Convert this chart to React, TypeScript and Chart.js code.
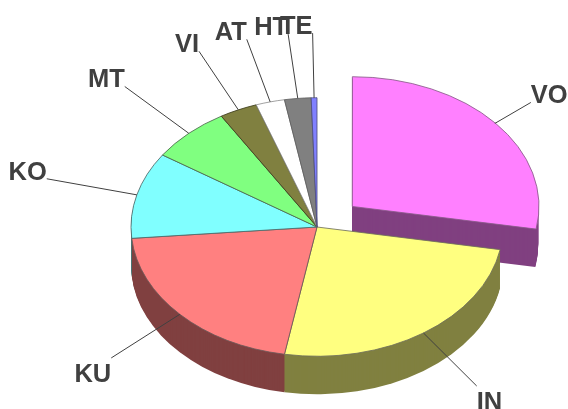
import React, { useEffect, useRef } from "react";
import { Chart, registerables } from "chart.js";

Chart.register(...registerables);

const categories = ["VO", "IN", "KU", "KO", "MT", "VI", "AT", "HT", "TE"];
const shares = [27.8, 25.0, 20.8, 10.8, 7.0, 3.3, 2.5, 2.3, 0.5];
const topColors = ["#FF80FF", "#FFFF80", "#FF8080", "#80FFFF", "#80FF80", "#808040", "#FFFFFF", "#808080", "#8080FF"];
const sideColors = ["#804080", "#808040", "#804040", "#408080", "#408040", "#404020", "#808080", "#404040", "#404080"];
const edgeColors = ["#8a5a8a", "#70705a", "#705a5a", "#506a6a", "#506a50", "#404020", "#909090", "#606060", "#505080"];
const paintOrder = [8, 7, 6, 5, 4, 3, 0, 2, 1];
const sliceOffsets = [184, 0, 0, 0, 0, 0, 0, 0, 0];

const SQUASH = 0.695;
const DEPTH = 38;
const LEADER = 1.5;

const pie3d = {
  id: "pie3d",
  beforeDatasetsDraw(chart: any) {
    const ctx = chart.ctx;
    const arcs = chart.getDatasetMeta(0).data;
    ctx.save();
    paintOrder.forEach((i) => {
      const a = arcs[i];
      const mid = (a.startAngle + a.endAngle) / 2;
      const shift = (sliceOffsets[i] || 0) / 4;
      const cx = a.x + Math.cos(mid) * shift;
      const cy = a.y + Math.sin(mid) * shift * SQUASH;
      ctx.fillStyle = sideColors[i];
      for (let k = DEPTH; k >= 1; k--) {
        ctx.beginPath();
        ctx.moveTo(cx, cy + k);
        ctx.ellipse(cx, cy + k, a.outerRadius, a.outerRadius * SQUASH, 0, a.startAngle, a.endAngle);
        ctx.closePath();
        ctx.fill();
      }
    });
    ctx.restore();
    const c = arcs[0].y;
    ctx.save();
    ctx.translate(0, c);
    ctx.scale(1, SQUASH);
    ctx.translate(0, -c);
  },
  afterDatasetsDraw(chart: any) {
    const ctx = chart.ctx;
    ctx.restore();
    const arcs = chart.getDatasetMeta(0).data;
    ctx.save();
    ctx.strokeStyle = "#404040";
    ctx.lineWidth = 1;
    ctx.fillStyle = "#404040";
    ctx.font = "bold 25.5px 'Liberation Sans'";
    arcs.forEach((a: any, i: number) => {
      const mid = (a.startAngle + a.endAngle) / 2;
      const shift = (sliceOffsets[i] || 0) / 4;
      const ux = Math.cos(mid);
      const uy = Math.sin(mid) * SQUASH;
      const r = a.outerRadius;
      const sx = a.x + ux * (r + shift);
      const sy = a.y + uy * (r + shift);
      const ex = a.x + ux * r * LEADER;
      const ey = a.y + uy * r * LEADER;
      ctx.beginPath();
      ctx.moveTo(sx, sy);
      ctx.lineTo(ex, ey);
      ctx.stroke();
      ctx.textAlign = ux < 0 ? "right" : "left";
      ctx.textBaseline = "alphabetic";
      ctx.fillText(categories[i], ex, uy > 0 ? ey + 24 : ey + 1);
    });
    ctx.restore();
  },
};

export default function App() {
  const ref = useRef<HTMLCanvasElement>(null);
  useEffect(() => {
    const chart = new Chart(ref.current as HTMLCanvasElement, {
      type: "pie",
      data: {
        labels: categories,
        datasets: [
          {
            data: shares,
            backgroundColor: topColors,
            borderColor: edgeColors,
            borderWidth: 1,
            offset: sliceOffsets,
            clip: false,
          } as any,
        ],
      },
      options: {
        animation: false,
        responsive: false,
        events: [],
        radius: 186,
        layout: { padding: { left: 66, top: 45, right: 0, bottom: 0 } },
        plugins: { legend: { display: false }, tooltip: { enabled: false } },
      } as any,
      plugins: [pie3d],
    });
    return () => chart.destroy();
  }, []);
  return (
    <div style={{ position: "absolute", left: 0, top: 0, background: "#fff" }}>
      <canvas ref={ref} width={568} height={409} style={{ display: "block" }} />
    </div>
  );
}
